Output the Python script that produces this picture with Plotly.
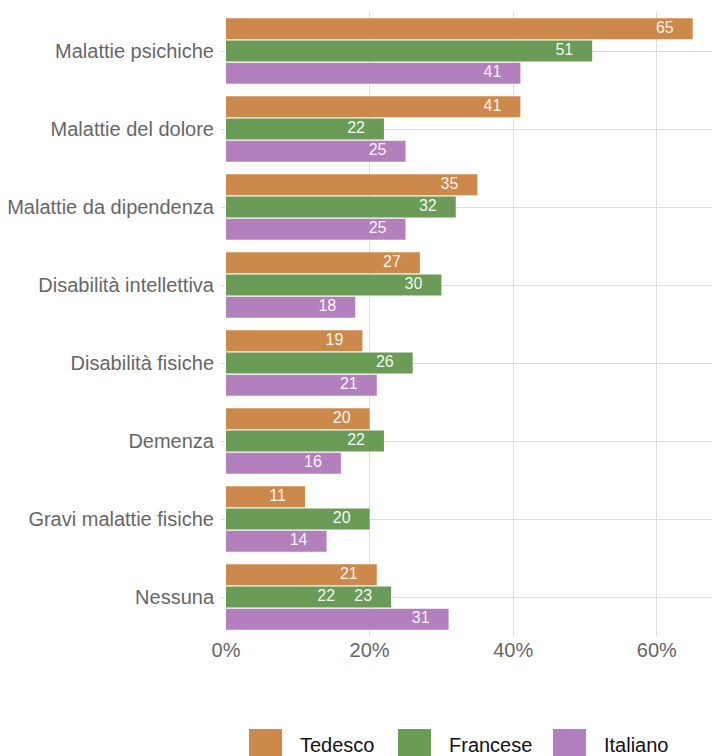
import plotly.graph_objects as go

categories = ["Malattie psichiche", "Malattie del dolore", "Malattie da dipendenza",
              "Disabilità intellettiva", "Disabilità fisiche", "Demenza",
              "Gravi malattie fisiche", "Nessuna"]
series_names = ["Tedesco", "Francese", "Italiano"]
tedesco = [65, 41, 35, 27, 19, 20, 11, 21]
francese = [51, 22, 32, 30, 26, 22, 20, 23]
italiano = [41, 25, 25, 18, 21, 16, 14, 31]
# duplicate label shown on the "Nessuna" Francese bar in the source
extra_label = {"category": "Nessuna", "series": "Francese", "value": 22}
x_ticks = [0, 20, 40, 60]
x_tick_labels = ["0%", "20%", "40%", "60%"]

colors = ["#CD894B", "#6A9C58", "#B37FBD"]
values = [tedesco, francese, italiano]

FONT = "Liberation Sans, Arial, Helvetica, sans-serif"
px_per_unit = 7.18
pad = 19 / px_per_unit
offsets = [-0.285, 0.0, 0.285]
bar_w = 0.27

fig = go.Figure()
idx = list(range(len(categories)))
for s, (name, vals, col, off) in enumerate(zip(series_names, values, colors, offsets)):
    ys = [i + off for i in idx]
    fig.add_trace(go.Bar(x=vals, y=ys, orientation="h", width=bar_w, name=name,
                         marker=dict(color=col, line=dict(width=0)), showlegend=False,
                         hoverinfo="x+name"))
    fig.add_trace(go.Scatter(x=[v - pad for v in vals], y=ys, mode="text",
                             text=[str(v) for v in vals], textposition="middle left",
                             textfont=dict(family=FONT, size=16, color="rgba(255,255,255,0.95)"),
                             showlegend=False, hoverinfo="skip"))

# extra duplicate label
ci = categories.index(extra_label["category"])
si = series_names.index(extra_label["series"])
fig.add_trace(go.Scatter(x=[values[si][ci] - pad - 37 / px_per_unit], y=[ci + offsets[si]],
                         mode="text", text=[str(extra_label["value"])],
                         textposition="middle left",
                         textfont=dict(family=FONT, size=16, color="rgba(255,255,255,0.95)"),
                         showlegend=False, hoverinfo="skip"))

# custom legend (large swatches); page has an 8px body offset
PL, PB, PW, PH = 226, 636, 502, 624
leg_x = [249, 398, 553]
for name, col, lx in zip(series_names, colors, leg_x):
    fig.add_shape(type="rect", xref="paper", yref="paper",
                  x0=(lx - PL) / PW, x1=(lx + 33 - PL) / PW,
                  y0=(PB - 729) / PH, y1=(PB - 762) / PH,
                  fillcolor=col, line=dict(width=0))
    fig.add_annotation(xref="paper", yref="paper", x=(lx + 49 - PL) / PW,
                       y=(PB - 745) / PH, text=name, showarrow=False,
                       xanchor="left", yanchor="middle",
                       font=dict(family=FONT, size=20, color="#111111"))

fig.update_layout(
    width=720, height=756,
    margin=dict(l=218, r=0, t=4, b=128),
    paper_bgcolor="white", plot_bgcolor="white",
    barmode="overlay",
    font=dict(family=FONT),
    xaxis=dict(range=[0, PW / px_per_unit], tickvals=x_ticks, ticktext=x_tick_labels,
               showgrid=True, gridcolor="#DDDDDD", gridwidth=1, zeroline=False,
               tickfont=dict(family=FONT, size=20, color="#666666"),
               ticks="", showline=False, fixedrange=True, automargin=False),
    yaxis=dict(range=[len(categories) - 0.5, -0.5], tickvals=idx, ticktext=categories,
               showgrid=True, gridcolor="#DDDDDD", gridwidth=1, zeroline=False,
               tickfont=dict(family=FONT, size=20, color="#666666"),
               ticks="outside", ticklen=4, tickcolor="#DDDDDD", showline=False,
               ticklabelstandoff=3, fixedrange=True, automargin=False),
    showlegend=False,
)

fig.write_html("out.html")
